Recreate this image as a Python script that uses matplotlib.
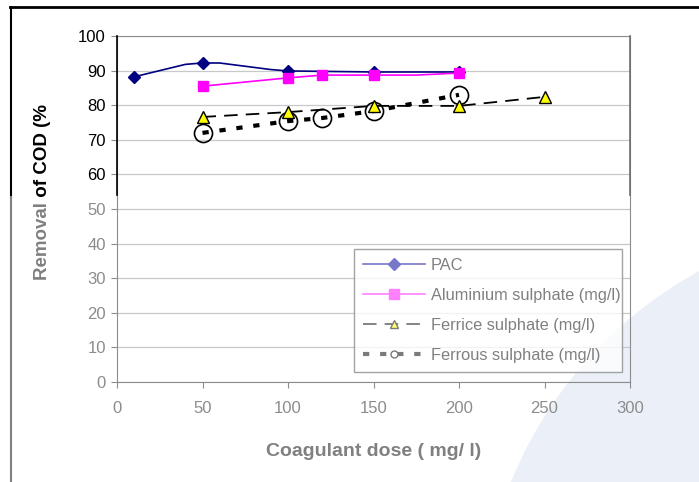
import matplotlib
matplotlib.use('Agg')
import matplotlib.pyplot as plt
from matplotlib.lines import Line2D
from matplotlib.patches import Ellipse, Rectangle

plt.rcParams['font.family'] = ['Liberation Sans', 'DejaVu Sans']

# PAC line has some extra points without markers (smoothed look)
pac_x = [10, 40, 50, 60, 90, 100, 150, 200]
pac_y = [88.2, 91.8, 92.2, 92.2, 90.3, 89.9, 89.6, 89.6]
pac_marks = [0, 2, 5, 6, 7]

alum_x = [50, 100, 120, 150, 175, 200]
alum_y = [85.5, 87.9, 88.7, 88.7, 88.7, 89.3]
alum_marks = [0, 1, 2, 3, 5]

ferric_x = [50, 100, 150, 200, 250]
ferric_y = [76.6, 78.0, 79.8, 79.8, 82.4]

ferrous_x = [50, 100, 120, 150, 200]
ferrous_y = [72.0, 75.4, 76.3, 78.3, 83.0]

labels = ["PAC", "Aluminium sulphate (mg/l)", "Ferrice sulphate (mg/l)",
          "Ferrous sulphate (mg/l)"]

W, H = 699, 482
fade = 1 - 197 / H   # lower part of the picture is washed out

fig = plt.figure(figsize=(6.99, 4.82), dpi=100)
fig.patch.set_facecolor('white')

# faint watermark in the lower right
wm = Ellipse((900 / W, (H - 640) / H), 840 / W, 840 / H,
             transform=fig.transFigure, facecolor='#ebf0f8',
             edgecolor='none', zorder=-5)
fig.patches.append(wm)

ax = fig.add_axes([117 / W, 100 / H, 513 / W, 346 / H])
ax.set_facecolor('none')

ax.plot(pac_x, pac_y, color='#000080', lw=1.2, marker='D', ms=6,
        markevery=pac_marks, zorder=5)
ax.plot(alum_x, alum_y, color='#ff00ff', lw=1.2, marker='s', ms=7,
        markevery=alum_marks, zorder=5)
ax.plot(ferric_x, ferric_y, color='black', lw=1.3, ls=(0, (7.5, 4.5)),
        marker='^', ms=8, mfc='#ffff00', mec='black', zorder=5)
ax.plot(ferrous_x, ferrous_y, color='black', lw=3, ls=(0, (1.5, 2.6)),
        marker='o', ms=13, mfc='none', mec='black', mew=1.2, zorder=4)

ax.set_xlim(0, 300)
ax.set_ylim(0, 100)
ax.set_xticks(range(0, 301, 50))
ax.set_yticks(range(0, 101, 10))
ax.yaxis.grid(True, color='#c8c8c8', lw=0.9)
ax.set_axisbelow(True)

for s in ax.spines.values():
    s.set_color('#8c8c8c')
ax.tick_params(axis='both', colors='#8c8c8c', labelsize=12, length=4)
ax.tick_params(axis='y', pad=4)
ax.tick_params(axis='x', pad=10)
for lab in ax.get_yticklabels():
    lab.set_color('black' if float(lab.get_text()) >= 60 else '#8c8c8c')
for tk in ax.yaxis.get_major_ticks():
    if tk.get_loc() >= 60:
        tk.tick1line.set_color('black')
for lab in ax.get_xticklabels():
    lab.set_color('#8c8c8c')

# dark upper part of the left and right spines
ax.plot([0, 0], [54, 100], color='black', lw=1.2, clip_on=False, zorder=6)
ax.plot([300, 300], [54, 100], color='#6e6e6e', lw=1.2, clip_on=False,
        zorder=6)

ax.set_xlabel("Coagulant dose ( mg/ l)", fontsize=14, fontweight='bold',
              color='#808080', labelpad=19)

# y label: darker in the top half, faded lower down
top_clip = Rectangle((0, fade), 1, 1 - fade, transform=fig.transFigure)
low_clip = Rectangle((0, 0), 1, fade, transform=fig.transFigure)
for col, clip in [('black', top_clip), ('#808080', low_clip)]:
    t = fig.text(43 / W, 1 - 192 / H, "Removal of COD (%", rotation=90,
                 ha='center', va='center', fontsize=13.5, fontweight='bold',
                 color=col)
    t.set_clip_path(clip)

handles = [
    Line2D([], [], color='#7878c8', lw=1.2, marker='D', ms=6,
           mfc='#7878c8', mec='#7878c8'),
    Line2D([], [], color='#ff80ff', lw=1.2, marker='s', ms=7,
           mfc='#ff80ff', mec='#ff80ff'),
    Line2D([], [], color='#7a7a7a', lw=1.3, ls=(0, (7.5, 4.5)), marker='^',
           ms=6, mfc='#ffff70', mec='#7a7a7a'),
    Line2D([], [], color='#7a7a7a', lw=3, ls=(0, (1.5, 2.6)), marker='o',
           ms=5, mfc='white', mec='#7a7a7a', mew=1),
]
leg = ax.legend(handles, labels, loc='lower left',
                bbox_to_anchor=(0.462, 0.029, 0.522, 0.361), mode='expand',
                fontsize=11.8, handlelength=3.8, handletextpad=0.35,
                labelspacing=0.92, borderaxespad=0, frameon=True,
                fancybox=False, borderpad=0.55)
leg.get_frame().set_edgecolor('#8c8c8c')
leg.get_frame().set_linewidth(1.0)
for t in leg.get_texts():
    t.set_color('#808080')

# outer frame (top and left edges)
fig.lines.append(Line2D([10 / W, 1.0], [1 - 7 / H, 1 - 7 / H], color='black',
                        lw=2, transform=fig.transFigure))
fig.lines.append(Line2D([11 / W, 11 / W], [1 - 7 / H, fade], color='black',
                        lw=1.5, transform=fig.transFigure))
fig.lines.append(Line2D([11 / W, 11 / W], [fade, 0.003], color='#808080',
                        lw=1.5, transform=fig.transFigure))

fig.savefig("out.png", dpi=100)
